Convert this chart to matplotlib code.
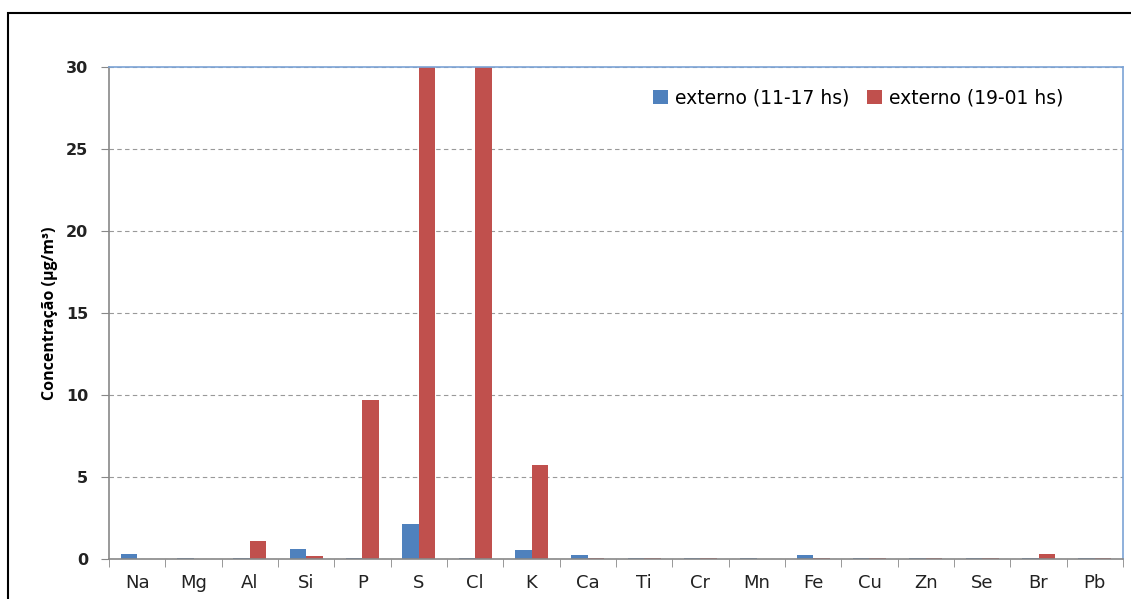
import numpy as np
import matplotlib.pyplot as plt
from matplotlib.patches import Rectangle

elements = ["Na", "Mg", "Al", "Si", "P", "S", "Cl", "K", "Ca", "Ti",
            "Cr", "Mn", "Fe", "Cu", "Zn", "Se", "Br", "Pb"]
day = [0.30, 0.05, 0.05, 0.62, 0.05, 2.15, 0.05, 0.55, 0.25, 0.05,
       0.05, 0.05, 0.25, 0.05, 0.05, 0.05, 0.05, 0.05]
night = [0.0, 0.0, 1.10, 0.20, 9.70, 30.0, 30.0, 5.75, 0.05, 0.05,
         0.05, 0.0, 0.05, 0.05, 0.05, 0.05, 0.30, 0.05]
yticks = [0, 5, 10, 15, 20, 25, 30]

blue = "#4F81BD"
red = "#C0504D"

fig = plt.figure(figsize=(11.31, 5.99), dpi=100)
# outer chart frame
fig.patches.append(Rectangle((8 / 1131, -0.1), 1.2, (599 - 13) / 599 + 0.1,
                             transform=fig.transFigure, fill=False,
                             edgecolor="black", linewidth=1.5))
ax = fig.add_axes([109 / 1131, 40 / 599, (1123 - 109) / 1131, (559 - 67) / 599])

x = np.arange(len(elements))
w = 0.29
ax.bar(x - w / 2, day, w, color=blue, label="externo (11-17 hs)")
ax.bar(x + w / 2, night, w, color=red, label="externo (19-01 hs)")

ax.set_xlim(-0.5, len(elements) - 0.5)
ax.set_ylim(0, 30)
ax.set_yticks(yticks)
ax.set_yticklabels([str(v) for v in yticks], fontsize=11.5, fontweight="bold",
                   family="DejaVu Sans", color="#222222")
ax.set_xticks(x)
ax.set_xticklabels(elements, fontsize=13, family="DejaVu Sans", color="#222222")
ax.set_xticks(np.arange(len(elements) + 1) - 0.5, minor=True)
ax.tick_params(axis="x", which="major", length=0, pad=11)
ax.tick_params(axis="x", which="minor", length=6, color="#888888", direction="out")
ax.tick_params(axis="y", length=6, color="#888888", pad=9)

ax.yaxis.grid(True, linestyle=(0, (4, 3)), color="#999999", linewidth=0.8)
ax.set_axisbelow(True)

ax.spines["left"].set_color("#888888")
ax.spines["bottom"].set_color("#888888")
ax.spines["top"].set_color("#7BA3D6")
ax.spines["right"].set_color("#7BA3D6")
for s in ax.spines.values():
    s.set_linewidth(1.2)

ax.set_ylabel("Concentração (µg/m³)", fontsize=11.5, fontweight="bold",
              family="Open Sans", labelpad=6)

ax.legend(loc="upper right", bbox_to_anchor=(0.958, 0.99), ncol=2, frameon=False,
          prop={"family": "DejaVu Sans", "size": 13.5}, handlelength=0.8,
          handleheight=0.8, handletextpad=0.4, columnspacing=0.9)

fig.savefig("out.png", dpi=100)
